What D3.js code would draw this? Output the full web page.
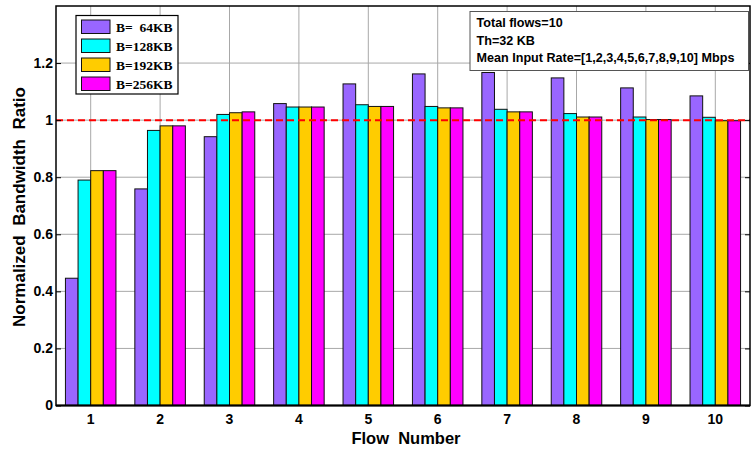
<!DOCTYPE html>
<html><head><meta charset="utf-8">
<script src="https://cdn.jsdelivr.net/npm/d3@7"></script>
<style>body{margin:0;background:#fff}svg{display:block}</style>
</head><body>
<svg id="c" width="754" height="449"></svg>
<script>
const categories = ["1","2","3","4","5","6","7","8","9","10"];
const seriesNames = ["B=\u00a0 64KB","B=128KB","B=192KB","B=256KB"];
const seriesColors = ["#9966FF","#00FFFF","#FFCC00","#FF00FF"];
const b64  = [0.446,0.759,0.942,1.058,1.127,1.162,1.167,1.148,1.113,1.085];
const b128 = [0.790,0.964,1.020,1.046,1.054,1.048,1.038,1.023,1.011,1.010];
const b192 = [0.823,0.980,1.026,1.046,1.048,1.043,1.029,1.011,1.002,0.998];
const b256 = [0.823,0.980,1.029,1.046,1.048,1.043,1.029,1.011,1.002,0.998];
const seriesValues = [b64,b128,b192,b256];
const yTicks = [0,0.2,0.4,0.6,0.8,1,1.2];
const yTickLabels = ["0","0.2","0.4","0.6","0.8","1","1.2"];
const refValue = 1;
const infoLines = ["Total flows=10","Th=32 KB","Mean Input Rate=[1,2,3,4,5,6,7,8,9,10] Mbps"];

const svg = d3.select("#c");
const L=56, R=750, T=6, B=405.5;
const x = d3.scaleBand().domain(categories).range([L,R]).padding(0);
const inner = d3.scaleBand().domain(d3.range(seriesNames.length)).range([0, x.bandwidth()*0.728]);
const y = d3.scaleLinear().domain([0,1.4]).range([B,T]);
const SANS = "Liberation Sans, Arial, sans-serif";

// grid
const g = svg.append("g");
g.selectAll("line.hg").data(yTicks.slice(1)).join("line")
  .attr("x1",L).attr("x2",R).attr("y1",d=>y(d)).attr("y2",d=>y(d))
  .attr("stroke","#a8a8a8").attr("stroke-width",1);
g.selectAll("line.vg").data(categories).join("line")
  .attr("x1",d=>x(d)+x.bandwidth()/2).attr("x2",d=>x(d)+x.bandwidth()/2)
  .attr("y1",T).attr("y2",B).attr("stroke","#a8a8a8").attr("stroke-width",1);

// bars
const off = (x.bandwidth() - x.bandwidth()*0.728)/2;
seriesValues.forEach((vals,si)=>{
  svg.append("g").selectAll("rect").data(vals).join("rect")
    .attr("x",(d,i)=>x(categories[i])+off+inner(si))
    .attr("width",inner.bandwidth())
    .attr("y",d=>y(d)).attr("height",d=>B-y(d))
    .attr("fill",seriesColors[si]).attr("stroke","#111").attr("stroke-width",1);
});

// reference line
svg.append("line").attr("x1",L).attr("x2",R).attr("y1",y(refValue)).attr("y2",y(refValue))
  .attr("stroke","#ff0000").attr("stroke-width",2).attr("stroke-dasharray","7,4");

// frame
svg.append("rect").attr("x",L).attr("y",T).attr("width",R-L).attr("height",B-T)
  .attr("fill","none").attr("stroke","#000").attr("stroke-width",1.5);
svg.append("line").attr("x1",L).attr("x2",R).attr("y1",B).attr("y2",B).attr("stroke","#000").attr("stroke-width",2);

// axes
const yAxis = d3.axisLeft(y).tickValues(yTicks).tickFormat((d,i)=>yTickLabels[i]).tickSizeInner(-5).tickSizeOuter(0).tickPadding(3);
const ya = svg.append("g").attr("transform",`translate(${L},0)`).call(yAxis);
ya.select(".domain").remove();
ya.selectAll("text").attr("font-family",SANS).attr("font-weight","bold").attr("font-size","14px").attr("fill","#000");
const yAxisR = d3.axisRight(y).tickValues(yTicks).tickSizeInner(-5).tickSizeOuter(0).tickFormat("");
svg.append("g").attr("transform",`translate(${R},0)`).call(yAxisR).select(".domain").remove();

const xAxis = d3.axisBottom(x).tickSize(0).tickPadding(9);
const xa = svg.append("g").attr("transform",`translate(0,${B})`).call(xAxis);
xa.select(".domain").remove();
xa.selectAll("text").attr("font-family",SANS).attr("font-weight","bold").attr("font-size","14px").attr("fill","#000");

// axis titles
svg.append("text").attr("x",(L+R)/2+3).attr("y",443.5).attr("text-anchor","middle")
  .attr("font-family",SANS).attr("font-weight","bold").attr("font-size","16.5px")
  .style("white-space","pre").text("Flow  Number");
svg.append("text").attr("transform","translate(25,207) rotate(-90)").attr("text-anchor","middle")
  .attr("font-family",SANS).attr("font-weight","bold").attr("font-size","17px")
  .style("white-space","pre").text("Normalized  Bandwidth  Ratio");

// legend
const lg = svg.append("g");
lg.append("rect").attr("x",76).attr("y",15.5).attr("width",102).attr("height",78.5)
  .attr("fill","#fff").attr("stroke","#000").attr("stroke-width",1.2);
seriesNames.forEach((n,i)=>{
  lg.append("rect").attr("x",81.5).attr("y",20+i*19).attr("width",28.5).attr("height",13.5)
    .attr("fill",seriesColors[i]).attr("stroke","#111").attr("stroke-width",1);
  lg.append("text").attr("x",116).attr("y",31.8+i*19)
    .attr("font-family","Liberation Serif, Times New Roman, serif").attr("font-weight","bold").attr("font-size","13.5px")
    .style("white-space","pre").text(n);
});

// info box
const ib = svg.append("g");
ib.append("rect").attr("x",470).attr("y",11.5).attr("width",278.5).attr("height",59)
  .attr("fill","#fff").attr("stroke","#555").attr("stroke-width",1);
infoLines.forEach((t,i)=>{
  ib.append("text").attr("x",476.5).attr("y",27+i*17.7)
    .attr("font-family",SANS).attr("font-weight","bold").attr("font-size","12.6px")
    .text(t);
});
</script>
</body></html>
